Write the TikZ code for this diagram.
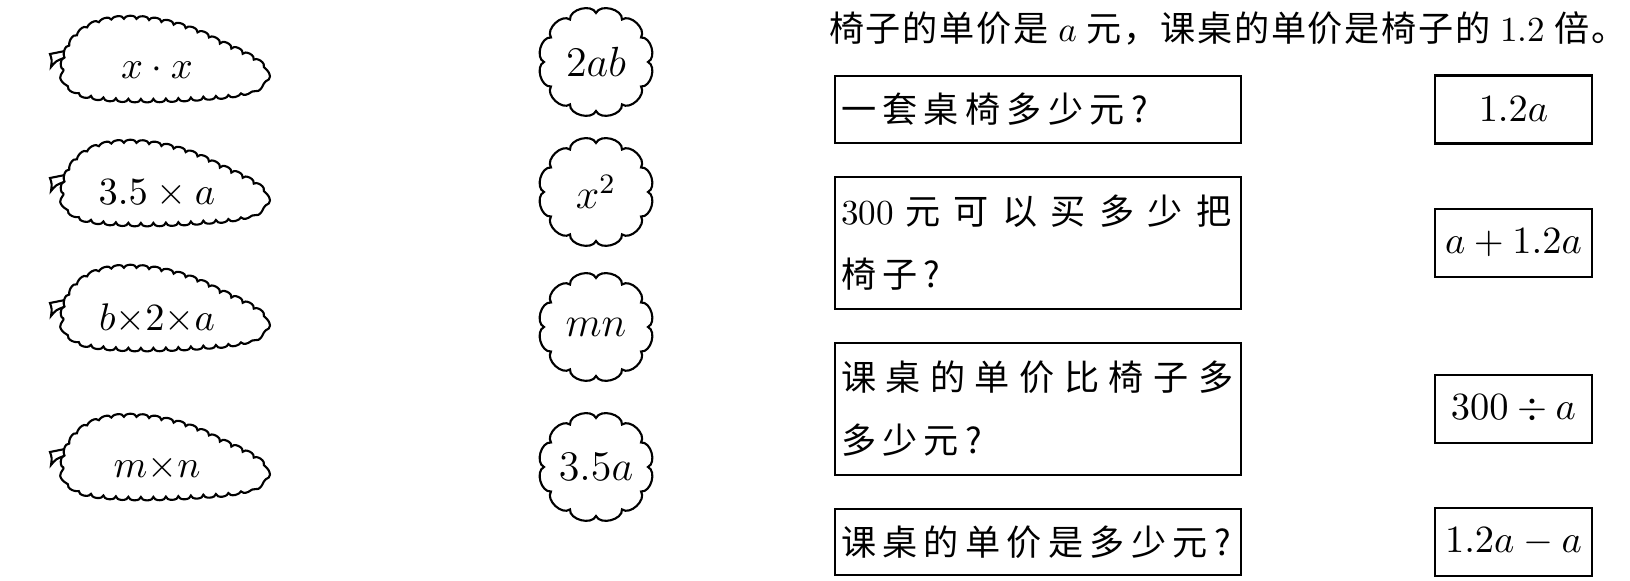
\documentclass[tikz,border=0pt]{standalone}
\usepackage{fontspec}
\usepackage{tikz}
\usetikzlibrary{calc,decorations.pathmorphing}
\newfontfamily\cjk[LetterSpace=18]{Noto Sans CJK SC}
\newfontfamily\cjktitle[LetterSpace=5]{Noto Sans CJK SC}

\begin{document}
\begin{tikzpicture}[line width=0.6pt]
  \tikzset{
    leaf/.style={decorate,decoration={bumps,segment length=0.25cm,amplitude=0.035cm}},
    qbox/.style={draw,text width=3.94cm,inner xsep=0.06cm,inner ysep=0pt,align=left,
                 font=\cjk\fontsize{10}{17.9}\selectfont},
    abox/.style={draw,minimum width=1.57cm,minimum height=0.68cm,inner sep=0pt,
                 font=\fontsize{11}{13}\selectfont}
  }
  \useasboundingbox (0,0) rectangle (16.30,5.81);
  % leaves with expressions
  \foreach \y/\nm/\lbl in {5.11/lxx/{$x\cdot x$},3.87/lta/{$3.5\times a$},
                           2.62/lba/{$b{\times}2{\times}a$},1.13/lmn/{$m{\times}n$}}{
    \begin{scope}[shift={(1.57,\y)}]
      \draw[leaf] (-0.93,0.0) .. controls (-0.92,0.25) and (-0.75,0.47) .. (-0.40,0.50)
        .. controls (-0.10,0.53) and (0.25,0.45) .. (0.50,0.33)
        .. controls (0.75,0.20) and (1.07,0.10) .. (1.07,-0.04)
        .. controls (1.07,-0.18) and (0.85,-0.24) .. (0.55,-0.26)
        .. controls (0.20,-0.29) and (-0.40,-0.31) .. (-0.68,-0.25)
        .. controls (-0.86,-0.20) and (-0.93,-0.12) .. cycle;
      \draw (-0.92,0.19) -- (-1.07,0.16) .. controls (-1.05,0.10) .. (-1.06,0.03)
        .. controls (-1.01,0.09) .. (-0.93,0.12);
      \node[font=\fontsize{11}{13}\selectfont] (\nm) at (0,0) {\lbl};
    \end{scope}
  }
  % clouds
  \foreach \y/\nm/\lbl in {5.19/cab/{$2ab$},3.89/cx/{$x^{2}$},2.54/cmn/{$mn$},1.14/cta/{$3.5a$}}{
    \draw ([shift={(90:0.52 and 0.49)}]5.96,\y)
      \foreach \i in {1,...,12}{ to[bend left=80] ([shift={({90-\i*30}:0.52 and 0.49)}]5.96,\y) } -- cycle;
    \node[font=\fontsize{11.5}{13}\selectfont] (\nm) at (5.96,\y) {\lbl};
  }
  % question
  \node[anchor=west,inner sep=0pt,font=\cjktitle\fontsize{10}{12}\selectfont] (title) at (8.28,5.53)
    {椅子的单价是 $a$ 元，课桌的单价是椅子的 {\rmfamily 1.2} 倍。};
  % left boxes
  \node[qbox,minimum height=0.67cm] (q1) at (10.38,4.715) {一套桌椅多少元?};
  \node[qbox,minimum height=1.32cm] (q2) at (10.38,3.38)
    {{\rmfamily 300} {\addfontfeature{LetterSpace=38}元可以买多少把}\\椅子?};
  \node[qbox,minimum height=1.32cm] (q3) at (10.38,1.72)
    {{\addfontfeature{LetterSpace=27}课桌的单价比椅子多}\\多少元?};
  \node[qbox,minimum height=0.66cm] (q4) at (10.38,0.39) {课桌的单价是多少元?};
  % right boxes
  \node[abox] (a1) at (15.135,4.715) {$1.2a$};
  \node[abox] (a2) at (15.135,3.38) {$a+1.2a$};
  \node[abox] (a3) at (15.135,1.72) {$300\div a$};
  \node[abox] (a4) at (15.135,0.39) {$1.2a-a$};
\end{tikzpicture}
\end{document}
